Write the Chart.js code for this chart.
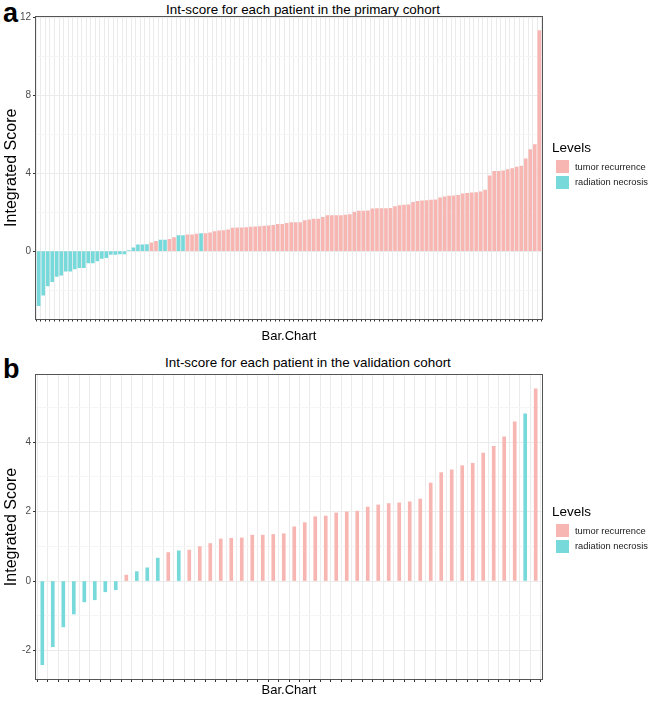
<!DOCTYPE html>
<html>
<head>
<meta charset="utf-8">
<script src="https://cdn.jsdelivr.net/npm/chart.js@4.4.1/dist/chart.umd.min.js"></script>
<style>
  html, body { margin: 0; padding: 0; background: #fff; }
  body { width: 649px; height: 701px; position: relative; overflow: hidden;
         font-family: "Liberation Sans", Arial, Helvetica, sans-serif; }
  canvas { position: absolute; left: 0; }
  .letter { position: absolute; font-weight: bold; font-size: 27px; line-height: 27px; color: #000; }
  .title { position: absolute; font-size: 13.4px; line-height: 16px; color: #000; white-space: nowrap; }
  .legend { position: absolute; left: 552px; color: #000; }
  .legend .lt { font-size: 13.5px; line-height: 16px; margin-bottom: 3px; }
  .legend .row { display: flex; align-items: center; height: 15.5px; margin-left: 4px; }
  .legend .sw { width: 13px; height: 13px; margin-right: 6px; }
  .legend .tx { font-size: 9.3px; color: #1a1a1a; }
</style>
</head>
<body>
<div class="letter" style="left:3px;top:0px;">a</div>
<div class="title" style="left:166px;top:2px;">Int-score for each patient in the primary cohort</div>
<canvas id="c1" width="649" height="345" style="top:0px;"></canvas>
<div class="legend" style="top:140px;">
  <div class="lt">Levels</div>
  <div class="row"><div class="sw" style="background:#F7B6B2"></div><div class="tx">tumor recurrence</div></div>
  <div class="row"><div class="sw" style="background:#78D9DB"></div><div class="tx">radiation necrosis</div></div>
</div>

<div class="letter" style="left:3px;top:356px;">b</div>
<div class="title" style="left:165px;top:355px;">Int-score for each patient in the validation cohort</div>
<canvas id="c2" width="649" height="351" style="top:350px;"></canvas>
<div class="legend" style="top:504px;">
  <div class="lt">Levels</div>
  <div class="row"><div class="sw" style="background:#F7B6B2"></div><div class="tx">tumor recurrence</div></div>
  <div class="row"><div class="sw" style="background:#78D9DB"></div><div class="tx">radiation necrosis</div></div>
</div>

<script>
// ---------- DATA ----------
const levelNames = ["tumor recurrence", "radiation necrosis"];
const levelColors = { R: "#F7B6B2", N: "#78D9DB" };

// Primary cohort (112 patients), sorted Int-score
const primaryScores = [
  -2.80, -2.26, -1.79, -1.57, -1.30, -1.23, -1.03, -1.03, -0.92, -0.85,
  -0.85, -0.60, -0.60, -0.50, -0.38, -0.34, -0.17, -0.17, -0.14, -0.14,
  0.02, 0.17, 0.32, 0.32, 0.34, 0.42, 0.50, 0.56, 0.56, 0.60,
  0.70, 0.80, 0.80, 0.84, 0.84, 0.87, 0.90, 0.90, 0.94, 1.00,
  1.04, 1.06, 1.09, 1.18, 1.20, 1.20, 1.21, 1.23, 1.25, 1.26,
  1.28, 1.30, 1.33, 1.37, 1.38, 1.42, 1.47, 1.47, 1.47, 1.57,
  1.61, 1.64, 1.64, 1.73, 1.83, 1.83, 1.83, 1.83, 1.85, 1.88,
  2.00, 2.05, 2.05, 2.07, 2.17, 2.19, 2.19, 2.19, 2.20, 2.29,
  2.34, 2.36, 2.38, 2.50, 2.55, 2.58, 2.60, 2.62, 2.63, 2.74,
  2.79, 2.82, 2.84, 2.87, 2.94, 2.97, 2.99, 3.01, 3.04, 3.13,
  3.86, 4.09, 4.10, 4.12, 4.19, 4.24, 4.31, 4.36, 4.74, 5.21,
  5.47, 11.32
];
// R = tumor recurrence, N = radiation necrosis
const primaryLevels = [
  "N","N","N","N","N","N","N","N","N","N",
  "N","N","N","N","N","N","N","N","N","N",
  "N","N","N","N","N","R","R","N","N","R",
  "R","N","N","R","R","R","N","R","R","R",
  "R","R","R","R","R","R","R","R","R","R",
  "R","R","R","R","R","R","R","R","R","R",
  "R","R","R","R","R","R","R","R","R","R",
  "R","R","R","R","R","R","R","R","R","R",
  "R","R","R","R","R","R","R","R","R","R",
  "R","R","R","R","R","R","R","R","R","R",
  "R","R","R","R","R","R","R","R","R","R",
  "R","R"
];

// Validation cohort (48 patients)
const validationScores = [
  -2.41, -1.89, -1.32, -0.95, -0.60, -0.54, -0.31, -0.25, 0.17, 0.27,
  0.38, 0.66, 0.82, 0.87, 0.89, 0.99, 1.08, 1.21, 1.23, 1.24,
  1.32, 1.32, 1.34, 1.36, 1.56, 1.68, 1.85, 1.87, 1.96, 1.99,
  2.01, 2.13, 2.19, 2.23, 2.25, 2.28, 2.36, 2.82, 3.12, 3.20,
  3.32, 3.39, 3.68, 3.88, 4.15, 4.58, 4.81, 5.53
];
const validationLevels = [
  "N","N","N","N","N","N","N","N","R","N",
  "N","N","R","N","R","R","R","R","R","R",
  "R","R","R","R","R","R","R","R","R","R",
  "R","R","R","R","R","R","R","R","R","R",
  "R","R","R","R","R","R","N","R"
];

const primaryYTicks = [0, 4, 8, 12];
const validationYTicks = [-2, 0, 2, 4];

// ---------- CHART HELPERS ----------
const FONT = "'Liberation Sans', Arial, Helvetica, sans-serif";

const panelBorder = {
  id: "panelBorder",
  afterDraw(chart) {
    const { ctx, chartArea: a } = chart;
    ctx.save();
    ctx.strokeStyle = "#555555";
    ctx.lineWidth = 1;
    const l = Math.round(a.left), t = Math.round(a.top), r = Math.round(a.right), b = Math.round(a.bottom);
    ctx.strokeRect(l - 0.5, t - 0.5, r - l + 1, b - t + 1);
    ctx.restore();
  }
};

function makeChart(id, scores, levels, cfg) {
  const n = scores.length;
  const points = scores.map((v, i) => ({ x: i + 1, y: v }));
  const colors = levels.map(l => levelColors[l]);
  return new Chart(document.getElementById(id), {
    type: "bar",
    data: {
      datasets: [{
        label: "Int-score",
        data: points,
        backgroundColor: colors,
        borderWidth: 0,
        barThickness: 3
      }]
    },
    plugins: [panelBorder],
    options: {
      responsive: false,
      animation: false,
      events: [],
      layout: { padding: { left: 0, right: 107, top: cfg.padTop, bottom: 0 } },
      plugins: { legend: { display: false }, tooltip: { enabled: false }, title: { display: false } },
      scales: {
        x: {
          type: "linear",
          min: 0.4, max: n + 0.6,
          offset: false,
          border: { display: false },
          grid: { color: "#EBEBEB", lineWidth: 1, drawTicks: true, tickLength: 3, tickColor: "#333333" },
          ticks: { stepSize: 1, autoSkip: false, maxTicksLimit: 500, includeBounds: false,
                   maxRotation: 0, padding: 0, callback: () => "" },
          title: { display: true, text: "Bar.Chart", color: "#000",
                   font: { family: FONT, size: 13 }, padding: { top: 0, bottom: cfg.xTitlePad } },
          afterFit: (s) => { s.height = cfg.xHeight; }
        },
        y: {
          min: cfg.yMin, max: cfg.yMax,
          border: { display: false },
          grid: {
            color: (c) => (c.tick && cfg.majors.includes(c.tick.value)) ? "#EBEBEB" : "#F5F5F5",
            lineWidth: 1,
            drawTicks: true, tickLength: 3,
            tickColor: (c) => (c.tick && cfg.majors.includes(c.tick.value)) ? "#333333" : "rgba(0,0,0,0)"
          },
          ticks: {
            stepSize: cfg.minorStep, includeBounds: false, autoSkip: false, padding: 2,
            color: "#4D4D4D", font: { family: FONT, size: 10 },
            callback: (v) => cfg.majors.includes(v) ? String(v) : ""
          },
          title: { display: true, text: "Integrated Score", color: "#000",
                   font: { family: FONT, size: 16 }, padding: { top: 2, bottom: 0 } },
          afterFit: (s) => { s.width = 36; }
        }
      }
    }
  });
}

makeChart("c1", primaryScores, primaryLevels, {
  padTop: 17, xHeight: 26.5, xTitlePad: 1.2,
  yMin: -3.46, yMax: 12.02, minorStep: 2, majors: primaryYTicks
});
makeChart("c2", validationScores, validationLevels, {
  padTop: 25, xHeight: 22, xTitlePad: 3.2,
  yMin: -2.82, yMax: 5.93, minorStep: 1, majors: validationYTicks
});
</script>
</body>
</html>
